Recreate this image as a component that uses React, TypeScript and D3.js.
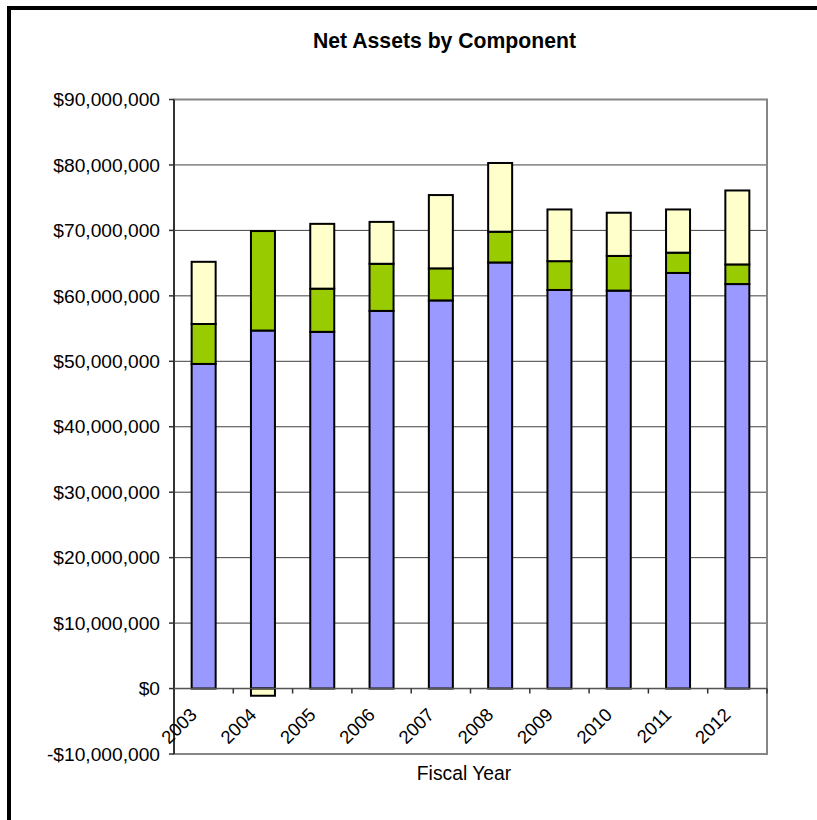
import React from "react";
import * as d3 from "d3";

const years = ["2003", "2004", "2005", "2006", "2007", "2008", "2009", "2010", "2011", "2012"];
const capitalAssets = [49.6, 54.7, 54.5, 57.7, 59.3, 65.1, 60.9, 60.8, 63.5, 61.8];
const restricted = [6.1, 15.2, 6.6, 7.2, 4.9, 4.7, 4.4, 5.3, 3.1, 3.0];
const unrestricted = [9.5, -1.1, 9.9, 6.4, 11.2, 10.5, 7.9, 6.6, 6.6, 11.3];
const seriesKeys = ["capitalAssets", "restricted", "unrestricted"];
const seriesColors = ["#9999FF", "#99CC00", "#FFFFCC"];
const yTicks = [-10, 0, 10, 20, 30, 40, 50, 60, 70, 80, 90];

const FONT = "'Liberation Sans', Arial, sans-serif";

export default function App() {
  const left = 174, right = 767, top = 99.5, bottom = 754;
  const x = d3.scaleBand<string>().domain(years).range([left, right]).paddingInner(0).paddingOuter(0);
  const y = d3.scaleLinear().domain([-10, 90]).range([bottom, top]);
  const rows = years.map((yr, i) => ({
    year: yr,
    capitalAssets: capitalAssets[i],
    restricted: restricted[i],
    unrestricted: unrestricted[i],
  }));
  const stack = d3.stack<any>().keys(seriesKeys).offset(d3.stackOffsetDiverging);
  const layers = stack(rows);
  const barW = 24;
  const fmt = (v: number) => (v < 0 ? "-$" : "$") + d3.format(",")(Math.abs(v) * 1000000);

  return (
    <svg width={817} height={820} style={{ position: "absolute", left: 0, top: 0, background: "#fff" }}>
      <rect x={0} y={0} width={817} height={820} fill="#fff" />
      <rect x={9} y={8} width={900} height={900} fill="none" stroke="#000" strokeWidth={4} />
      <text x={444.5} y={47.5} textAnchor="middle" fontFamily={FONT} fontWeight="bold" fontSize={21.2} fill="#000">
        Net Assets by Component
      </text>
      {yTicks.map((t) => (
        <line key={"g" + t} x1={left} x2={right} y1={y(t)} y2={y(t)} stroke="#404040" strokeWidth={1} />
      ))}
      {layers.map((layer, li) =>
        layer.map((d, i) => {
          const y0 = y(d[0]);
          const y1 = y(d[1]);
          const cx = (x(years[i]) as number) + x.bandwidth() / 2;
          return (
            <rect
              key={li + "-" + i}
              x={cx - barW / 2}
              y={Math.min(y0, y1)}
              width={barW}
              height={Math.abs(y1 - y0)}
              fill={seriesColors[li]}
              stroke="#000"
              strokeWidth={2}
            />
          );
        })
      )}
      <rect x={left} y={top} width={right - left} height={bottom - top} fill="none" stroke="#868686" strokeWidth={2} />
      <line x1={left} x2={left} y1={top} y2={bottom} stroke="#333" strokeWidth={2} />
      {yTicks.map((t) => (
        <g key={"t" + t}>
          <line x1={left - 5} x2={left} y1={y(t)} y2={y(t)} stroke="#333" strokeWidth={1.5} />
          <text x={160} y={y(t)} dy="0.35em" textAnchor="end" fontFamily={FONT} fontSize={19.2} fill="#000">
            {fmt(t)}
          </text>
        </g>
      ))}
      <line x1={left} x2={right} y1={y(0)} y2={y(0)} stroke="#555" strokeWidth={1.5} />
      {years.map((yr, i) => (
        <line key={"xt" + yr} x1={(x(yr) as number) + x.bandwidth()} x2={(x(yr) as number) + x.bandwidth()} y1={y(0)} y2={y(0) + 5} stroke="#333" strokeWidth={1.5} />
      ))}
      {years.map((yr) => {
        const cx = (x(yr) as number) + x.bandwidth() / 2;
        const px = cx - 5.5;
        const py = 716;
        return (
          <text key={"xl" + yr} x={px} y={py} textAnchor="end" transform={`rotate(-45,${px},${py})`} fontFamily={FONT} fontSize={18.5} fill="#000">
            {yr}
          </text>
        );
      })}
      <text x={464} y={780} textAnchor="middle" fontFamily={FONT} fontSize={19.3} fill="#000">
        Fiscal Year
      </text>
    </svg>
  );
}
